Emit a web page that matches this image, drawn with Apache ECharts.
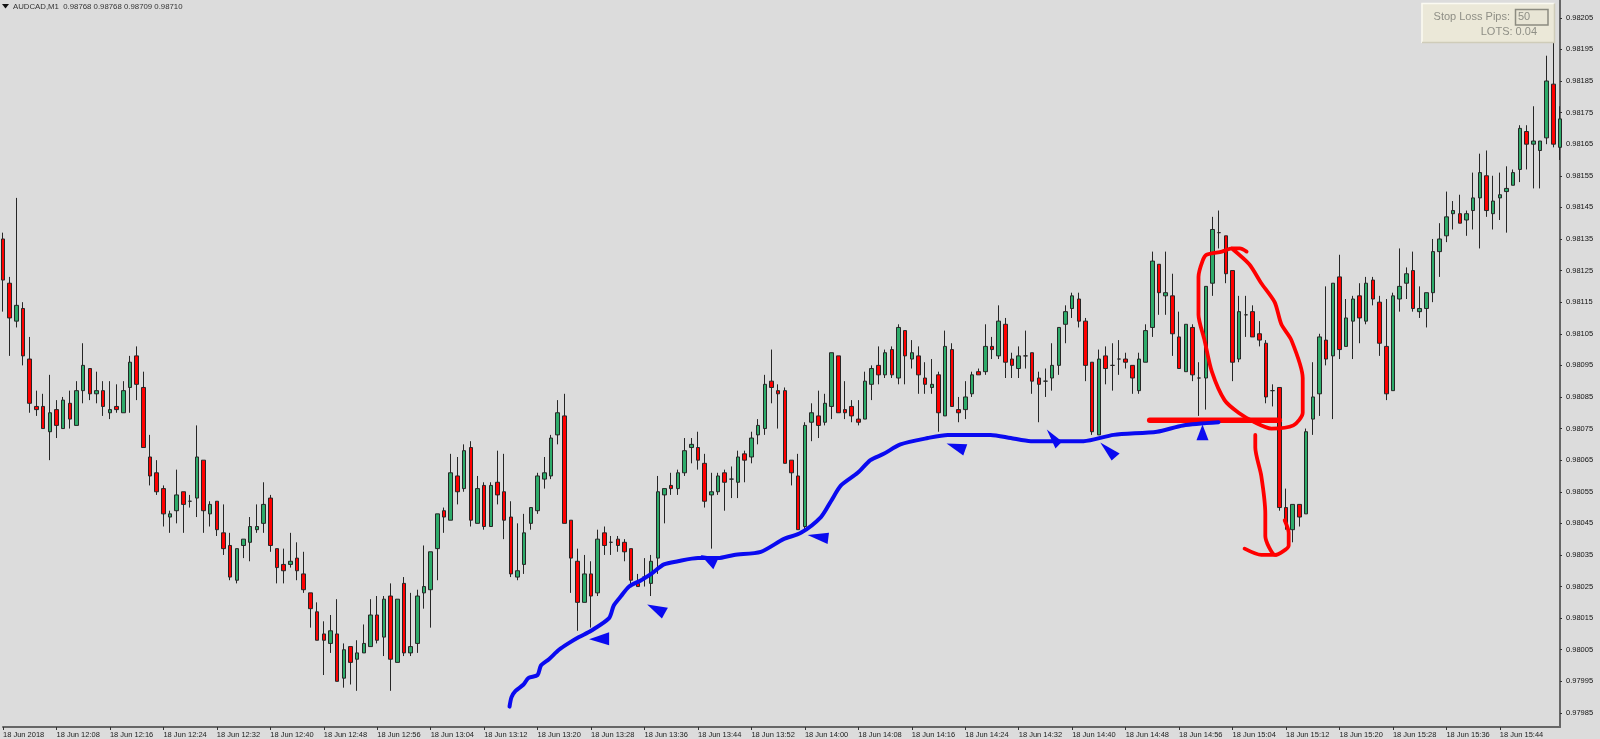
<!DOCTYPE html>
<html><head><meta charset="utf-8">
<style>html,body{margin:0;padding:0;background:#dcdcdc;overflow:hidden}#c{width:1600px;height:739px}</style>
<script src="https://cdn.jsdelivr.net/npm/echarts@6/dist/echarts.min.js"></script>
</head><body><div id="c"></div>
<script>
const open=[
0.98135,0.98121,0.98109,0.98113,0.98097,0.98082,0.98082,0.98074,0.98081,0.98075,
0.98083,0.98076,0.98087,0.98094,0.98086,0.98087,0.98080,0.98082,0.98080,0.98088,
0.98098,0.98088,0.98066,0.98061,0.98056,0.98047,0.98049,0.98055,0.98052,0.98053,
0.98065,0.98048,0.98052,0.98042,0.98038,0.98027,0.98038,0.98039,0.98043,0.98045,
0.98053,0.98037,0.98032,0.98032,0.98034,0.98029,0.98023,0.98017,0.98010,0.98007,
0.98010,0.97996,0.98006,0.98002,0.98004,0.98006,0.98016,0.98009,0.98022,0.98001,
0.98026,0.98004,0.98007,0.98023,0.98024,0.98037,0.98049,0.98046,0.98060,0.98056,
0.98069,0.98045,0.98057,0.98044,0.98058,0.98055,0.98047,0.98028,0.98032,0.98045,
0.98049,0.98059,0.98060,0.98073,0.98079,0.98046,0.98033,0.98020,0.98029,0.98023,
0.98042,0.98039,0.98040,0.98039,0.98037,0.98026,0.98028,0.98026,0.98034,0.98054,
0.98057,0.98056,0.98061,0.98069,0.98069,0.98064,0.98054,0.98055,0.98061,0.98059,
0.98058,0.98067,0.98066,0.98073,0.98075,0.98090,0.98087,0.98087,0.98065,0.98060,
0.98044,0.98077,0.98079,0.98077,0.98082,0.98098,0.98081,0.98082,0.98078,0.98078,
0.98089,0.98095,0.98092,0.98100,0.98091,0.98106,0.98097,0.98098,0.98091,0.98088,
0.98092,0.98079,0.98100,0.98081,0.98081,0.98086,0.98093,0.98093,0.98101,0.98098,
0.98108,0.98097,0.98094,0.98098,0.98099,0.98091,0.98090,0.98091,0.98095,0.98108,
0.98113,0.98116,0.98109,0.98096,0.98073,0.98098,0.98095,0.98097,0.98097,0.98095,
0.98087,0.98096,0.98107,0.98127,0.98117,0.98117,0.98104,0.98093,0.98107,0.98091,
0.98091,0.98121,0.98137,0.98136,0.98125,0.98097,0.98111,0.98112,0.98105,0.98102,
0.98087,0.98088,0.98050,0.98043,0.98051,0.98048,0.98078,0.98086,0.98103,0.98098,
0.98123,0.98101,0.98109,0.98117,0.98109,0.98122,0.98115,0.98101,0.98087,0.98116,
0.98121,0.98125,0.98112,0.98113,0.98118,0.98131,0.98136,0.98143,0.98143,0.98141,
0.98144,0.98148,0.98155,0.98143,0.98148,0.98150,0.98152,0.98157,0.98169,0.98165,
0.98163,0.98167,0.98184,0.98164];
const close=[
0.98122,0.98110,0.98114,0.98098,0.98083,0.98081,0.98075,0.98080,0.98076,0.98084,
0.98078,0.98087,0.98095,0.98086,0.98087,0.98082,0.98081,0.98081,0.98087,0.98096,
0.98089,0.98069,0.98060,0.98055,0.98048,0.98048,0.98054,0.98051,0.98052,0.98066,
0.98049,0.98051,0.98043,0.98037,0.98028,0.98037,0.98040,0.98044,0.98044,0.98051,
0.98038,0.98031,0.98030,0.98033,0.98030,0.98024,0.98018,0.98008,0.98008,0.98011,
0.97995,0.98005,0.98001,0.98004,0.98007,0.98016,0.98008,0.98021,0.98002,0.98021,
0.98004,0.98006,0.98022,0.98025,0.98036,0.98048,0.98047,0.98061,0.98055,0.98068,
0.98046,0.98056,0.98044,0.98057,0.98054,0.98046,0.98029,0.98030,0.98042,0.98050,
0.98060,0.98061,0.98072,0.98080,0.98045,0.98034,0.98020,0.98029,0.98022,0.98040,
0.98038,0.98039,0.98038,0.98036,0.98027,0.98025,0.98028,0.98033,0.98055,0.98056,
0.98056,0.98061,0.98068,0.98070,0.98065,0.98052,0.98055,0.98060,0.98058,0.98059,
0.98066,0.98065,0.98072,0.98076,0.98089,0.98088,0.98086,0.98064,0.98061,0.98043,
0.98076,0.98080,0.98076,0.98083,0.98099,0.98080,0.98080,0.98079,0.98077,0.98090,
0.98094,0.98092,0.98099,0.98092,0.98107,0.98098,0.98099,0.98092,0.98089,0.98089,
0.98080,0.98101,0.98082,0.98080,0.98085,0.98092,0.98092,0.98101,0.98100,0.98109,
0.98096,0.98095,0.98098,0.98098,0.98090,0.98089,0.98090,0.98095,0.98107,0.98112,
0.98117,0.98109,0.98095,0.98074,0.98097,0.98094,0.98095,0.98097,0.98096,0.98091,
0.98097,0.98106,0.98128,0.98118,0.98118,0.98105,0.98094,0.98108,0.98092,0.98091,
0.98120,0.98138,0.98137,0.98124,0.98096,0.98112,0.98111,0.98104,0.98103,0.98085,
0.98087,0.98050,0.98045,0.98051,0.98047,0.98074,0.98085,0.98104,0.98097,0.98121,
0.98100,0.98110,0.98116,0.98110,0.98121,0.98116,0.98102,0.98086,0.98117,0.98120,
0.98124,0.98113,0.98113,0.98118,0.98131,0.98135,0.98142,0.98144,0.98140,0.98143,
0.98148,0.98156,0.98144,0.98147,0.98149,0.98151,0.98156,0.98170,0.98165,0.98166,
0.98166,0.98185,0.98165,0.98173];
const high=[
0.98137,0.98123,0.98148,0.98115,0.98104,0.98087,0.98086,0.98092,0.98084,0.98085,
0.98087,0.98090,0.98102,0.98094,0.98093,0.98090,0.98090,0.98089,0.98090,0.98098,
0.98101,0.98093,0.98073,0.98065,0.98057,0.98049,0.98062,0.98055,0.98054,0.98076,
0.98065,0.98052,0.98052,0.98051,0.98042,0.98037,0.98040,0.98047,0.98051,0.98058,
0.98054,0.98037,0.98037,0.98042,0.98039,0.98036,0.98023,0.98020,0.98014,0.98016,
0.98021,0.98007,0.98006,0.98008,0.98013,0.98021,0.98022,0.98022,0.98026,0.98021,
0.98028,0.98023,0.98024,0.98038,0.98036,0.98048,0.98050,0.98067,0.98066,0.98070,
0.98071,0.98060,0.98058,0.98058,0.98068,0.98067,0.98052,0.98045,0.98048,0.98050,
0.98061,0.98066,0.98073,0.98084,0.98086,0.98046,0.98037,0.98035,0.98033,0.98043,
0.98044,0.98041,0.98041,0.98040,0.98037,0.98029,0.98034,0.98035,0.98060,0.98056,
0.98061,0.98062,0.98072,0.98072,0.98074,0.98067,0.98061,0.98061,0.98062,0.98063,
0.98068,0.98068,0.98074,0.98078,0.98092,0.98100,0.98089,0.98088,0.98065,0.98067,
0.98077,0.98083,0.98087,0.98086,0.98099,0.98098,0.98090,0.98084,0.98084,0.98093,
0.98095,0.98101,0.98100,0.98101,0.98108,0.98106,0.98103,0.98101,0.98096,0.98097,
0.98093,0.98106,0.98102,0.98085,0.98090,0.98093,0.98094,0.98108,0.98104,0.98114,
0.98110,0.98099,0.98101,0.98106,0.98099,0.98093,0.98094,0.98102,0.98107,0.98114,
0.98118,0.98118,0.98110,0.98096,0.98100,0.98101,0.98102,0.98103,0.98099,0.98095,
0.98099,0.98108,0.98131,0.98127,0.98131,0.98124,0.98112,0.98108,0.98108,0.98096,
0.98120,0.98142,0.98144,0.98136,0.98125,0.98117,0.98117,0.98114,0.98109,0.98103,
0.98089,0.98088,0.98056,0.98051,0.98051,0.98075,0.98096,0.98105,0.98120,0.98121,
0.98130,0.98116,0.98117,0.98121,0.98123,0.98123,0.98117,0.98116,0.98118,0.98132,
0.98126,0.98131,0.98120,0.98118,0.98135,0.98140,0.98150,0.98147,0.98149,0.98144,
0.98156,0.98162,0.98163,0.98155,0.98156,0.98158,0.98157,0.98171,0.98171,0.98177,
0.98166,0.98193,0.98198,0.98177];
const low=[
0.98112,0.98098,0.98107,0.98095,0.98080,0.98079,0.98075,0.98065,0.98072,0.98075,
0.98075,0.98076,0.98083,0.98084,0.98083,0.98079,0.98078,0.98080,0.98080,0.98080,
0.98084,0.98069,0.98057,0.98054,0.98044,0.98042,0.98045,0.98042,0.98050,0.98047,
0.98042,0.98044,0.98041,0.98035,0.98027,0.98026,0.98034,0.98033,0.98042,0.98042,
0.98036,0.98026,0.98026,0.98031,0.98027,0.98023,0.98012,0.98008,0.97997,0.98004,
0.97995,0.97993,0.97994,0.97992,0.98004,0.98006,0.98007,0.98003,0.97992,0.98001,
0.98003,0.98003,0.98004,0.98018,0.98012,0.98027,0.98042,0.98046,0.98051,0.98055,
0.98044,0.98045,0.98043,0.98044,0.98051,0.98040,0.98028,0.98027,0.98029,0.98043,
0.98048,0.98056,0.98059,0.98070,0.98045,0.98023,0.98011,0.98020,0.98012,0.98022,
0.98035,0.98035,0.98036,0.98033,0.98025,0.98025,0.98025,0.98022,0.98029,0.98045,
0.98054,0.98054,0.98060,0.98064,0.98062,0.98050,0.98037,0.98054,0.98049,0.98053,
0.98053,0.98058,0.98064,0.98070,0.98073,0.98083,0.98075,0.98064,0.98057,0.98043,
0.98043,0.98071,0.98072,0.98076,0.98078,0.98080,0.98078,0.98077,0.98076,0.98078,
0.98084,0.98089,0.98091,0.98091,0.98089,0.98089,0.98094,0.98086,0.98086,0.98086,
0.98074,0.98079,0.98082,0.98077,0.98078,0.98085,0.98092,0.98092,0.98097,0.98097,
0.98091,0.98091,0.98091,0.98094,0.98086,0.98077,0.98085,0.98087,0.98092,0.98102,
0.98110,0.98107,0.98090,0.98073,0.98073,0.98089,0.98087,0.98092,0.98094,0.98086,
0.98086,0.98096,0.98104,0.98111,0.98111,0.98098,0.98094,0.98093,0.98090,0.98079,
0.98081,0.98117,0.98132,0.98121,0.98090,0.98096,0.98104,0.98104,0.98101,0.98083,
0.98082,0.98049,0.98043,0.98039,0.98044,0.98048,0.98073,0.98079,0.98095,0.98078,
0.98097,0.98101,0.98097,0.98102,0.98108,0.98114,0.98098,0.98084,0.98087,0.98112,
0.98116,0.98112,0.98110,0.98107,0.98115,0.98123,0.98134,0.98138,0.98140,0.98136,
0.98138,0.98132,0.98142,0.98138,0.98141,0.98137,0.98152,0.98153,0.98157,0.98151,
0.98151,0.98165,0.98164,0.98160];
const priceTicks=[0.97985,0.97995,0.98005,0.98015,0.98025,0.98035,0.98045,0.98055,0.98065,0.98075,0.98085,0.98095,0.98105,0.98115,0.98125,0.98135,0.98145,0.98155,0.98165,0.98175,0.98185,0.98195,0.98205];
const titleText='AUDCAD,M1  0.98768 0.98768 0.98709 0.98710';
// hand-drawn annotations as [bar position, price]
const blueCurve=[[75.8,0.97987],[76.1,0.97990],[76.7,0.97992],[77.9,0.97994],[78.6,0.97996],[80.0,0.97997],[80.5,0.98000],[81.7,0.98002],[83.2,0.98005],[84.6,0.98007],[86.2,0.98009],[88.0,0.98011],[90.7,0.98015],[91.4,0.98019],[92.5,0.98022],[93.7,0.98025],[95.5,0.98027],[97.0,0.98029],[98.9,0.98032],[101.0,0.98033],[104.0,0.98034],[107.0,0.98034],[109.4,0.98035],[113.4,0.98036],[116.8,0.98040],[119.4,0.98042],[122.4,0.98047],[123.9,0.98052],[125.4,0.98057],[127.9,0.98061],[129.8,0.98065],[131.8,0.98067],[134.3,0.98070],[138.4,0.98072],[141.4,0.98073],[147.8,0.98073],[150.8,0.98072],[153.8,0.98071],[157.8,0.98071],[161.7,0.98071],[166.2,0.98073],[172.7,0.98074],[176.6,0.98076],[181.9,0.98077]];
const redBar=[[171.6,0.980776],[191,0.980776]];
const redLoop=[[186.1,0.98131],[185.1,0.98132],[183.9,0.98132],[182.4,0.98131],[180.1,0.98130],[179.5,0.98128],[178.9,0.98123],[178.9,0.98111],[179.8,0.98103],[180.9,0.98093],[182.8,0.98084],[184.9,0.98080],[187.3,0.98077],[189.8,0.98075],[193.1,0.98076],[194.5,0.98080],[194.5,0.98091],[192.8,0.98103],[191.3,0.98108],[190.3,0.98115],[188.3,0.98121],[186.5,0.98127],[183.9,0.98132]];
const redHook=[[187.4,0.98073],[187.4,0.98069],[188.3,0.98060],[188.9,0.98048],[188.9,0.98041],[190.4,0.98035],[192.4,0.98038],[192.4,0.98042],[191.8,0.98046]];
const redTail=[[185.8,0.98037],[188.3,0.98035],[190.4,0.98035]];
const blueTriangles=[
[[87.7,0.980083],[90.7,0.980105],[90.7,0.980064]],
[[96.4,0.980193],[99.5,0.980183],[98.6,0.980149]],
[[104.4,0.98035],[107.1,0.980341],[106.3,0.980305]],
[[120.4,0.980413],[123.6,0.98042],[123.4,0.980385]],
[[141.2,0.980703],[144.3,0.9807],[143.7,0.980665]],
[[156.2,0.980747],[158.5,0.980709],[157.5,0.980687]],
[[164.2,0.980706],[167.1,0.980671],[165.9,0.980649]],
[[179.5,0.980763],[178.6,0.980713],[180.4,0.980713]]];
const startLabel='18 Jun 2018', dayLabel='18 Jun ';
const barCount=open.length;
const categories=open.map((_,i)=>{
  if(i===0) return startLabel;
  const m=12*60+i; return dayLabel+String(Math.floor(m/60)).padStart(2,'0')+':'+String(m%60).padStart(2,'0');
});
const candles=open.map((o,i)=>[o,close[i],low[i],high[i]]);
const FONT='"Liberation Sans",Arial,sans-serif';
const chart=echarts.init(document.getElementById('c'),null,{renderer:'canvas',width:1600,height:739});
function handLine(data,color,width,z){
  return {type:'line',xAxisIndex:1,yAxisIndex:0,data,symbol:'none',smooth:0.25,silent:true,z,clip:false,
    lineStyle:{color,width,cap:'round',join:'round'},animation:false};
}
chart.setOption({
  animation:false,
  backgroundColor:'#dcdcdc',
  title:{text:titleText,left:13,top:2.5,padding:0,textStyle:{fontFamily:FONT,fontSize:7.8,fontWeight:'normal',color:'#333'}},
  grid:{left:0,top:0,width:1560,height:730.5,containLabel:false},
  xAxis:[
   {type:'category',data:categories,boundaryGap:false,
    axisLine:{lineStyle:{color:'#666',width:2}},
    axisTick:{show:true,interval:7,length:3,lineStyle:{color:'#333',width:1}},
    axisLabel:{interval:7,align:'left',margin:4,hideOverlap:false,fontFamily:FONT,fontSize:7.5,color:'#222',showMinLabel:true,showMaxLabel:false},
    splitLine:{show:false}},
   {type:'value',min:0,max:barCount-1,show:false,position:'top'}],
  yAxis:[{type:'value',position:'right',min:0.9798055,max:0.9821063,scale:true,
    axisLine:{show:true,onZero:false,lineStyle:{color:'#666',width:2}},
    axisTick:{show:true,length:2,customValues:priceTicks,lineStyle:{color:'#333',width:1}},
    axisLabel:{margin:6,customValues:priceTicks,formatter:v=>Number(v).toFixed(5),fontFamily:FONT,fontSize:7.5,color:'#111',hideOverlap:false},
    splitLine:{show:false}}],
  series:[
   {type:'candlestick',data:candles,barWidth:4,clip:false,z:2,silent:true,
    itemStyle:{color:'#2dab6a',color0:'#ff0000',borderColor:'#262626',borderColor0:'#262626',borderWidth:1}},
   handLine(redBar,'#ff0000',5.5,3),
   handLine(redLoop,'#ff0000',3.8,3),
   handLine(redHook,'#ff0000',3.8,3),
   handLine(redTail,'#ff0000',3.8,3),
   handLine(blueCurve,'#0a0af0',4,4),
   {type:'custom',xAxisIndex:1,yAxisIndex:0,data:blueTriangles.map((t,i)=>[i]),silent:true,z:4,clip:false,
    renderItem:(params,api)=>{
      const t=blueTriangles[api.value(0)];
      return {type:'polygon',shape:{points:t.map(p=>api.coord(p))},style:{fill:'#0a0af0'}};
    }}
  ],
  graphic:[
   {type:'polygon',z:50,shape:{points:[[2,4],[9,4],[5.5,8.5]]},style:{fill:'#111'}},
   {type:'rect',z:100,shape:{x:1421.5,y:3,width:133,height:40},style:{fill:'#ebe8d8'}},
   {type:'polyline',z:101,shape:{points:[[1422,43],[1422,3.5],[1554.5,3.5]]},style:{stroke:'#fbfaf2',fill:null,lineWidth:1.5}},
   {type:'polyline',z:101,shape:{points:[[1422,42.5],[1554.5,42.5],[1554.5,3.5]]},style:{stroke:'#cfccb9',fill:null,lineWidth:1.5}},
   {type:'rect',z:101,shape:{x:1515.5,y:9.5,width:32.5,height:15.5},style:{fill:'#e8e5d5',stroke:'#8c8b80',lineWidth:1.5}},
   {type:'text',z:102,style:{x:1510,y:17,text:'Stop Loss Pips:',textAlign:'right',textVerticalAlign:'middle',font:'11px '+FONT,fill:'#8f8f86'}},
   {type:'text',z:102,style:{x:1518,y:17,text:'50',textAlign:'left',textVerticalAlign:'middle',font:'11px '+FONT,fill:'#8f8f86'}},
   {type:'text',z:102,style:{x:1537,y:32,text:'LOTS: 0.04',textAlign:'right',textVerticalAlign:'middle',font:'11px '+FONT,fill:'#8f8f86'}}
  ]
});
</script></body></html>
